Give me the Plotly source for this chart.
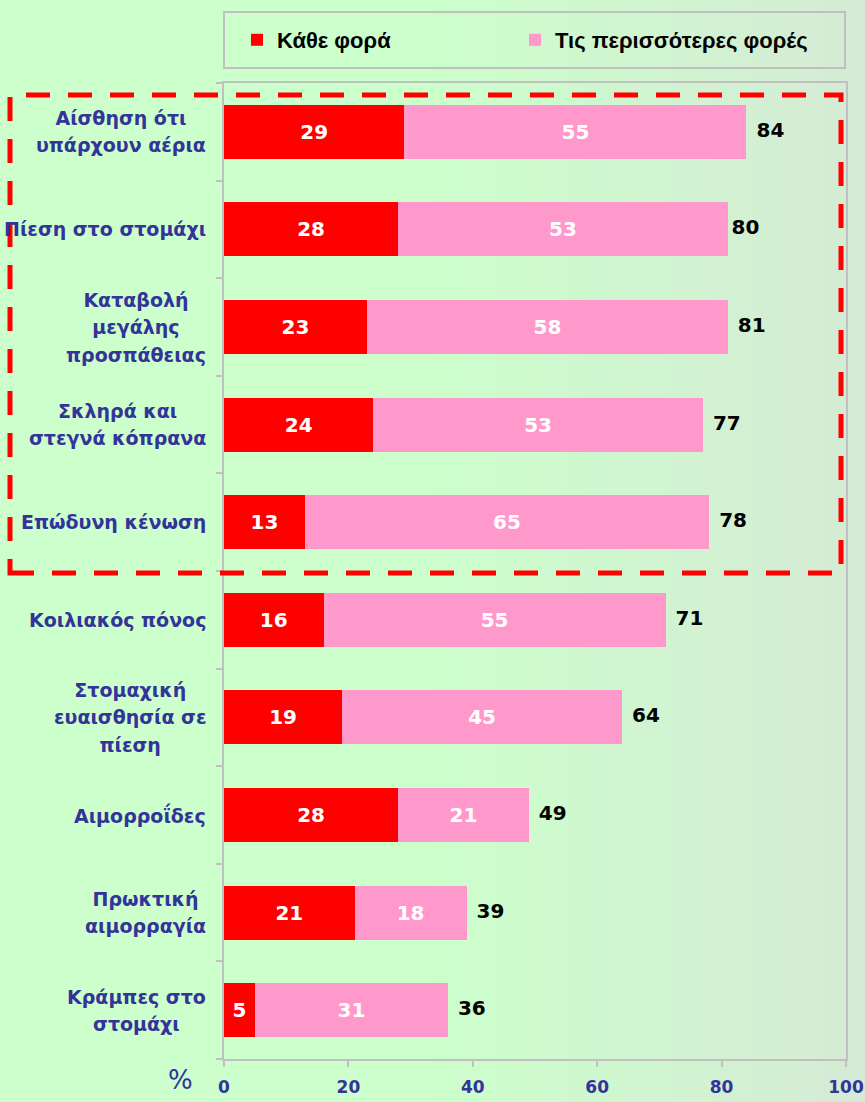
import plotly.graph_objects as go

categories = ["Αίσθηση ότι<br>υπάρχουν αέρια", "Πίεση στο στομάχι", "Καταβολή<br>μεγάλης<br>προσπάθειας",
              "Σκληρά και<br>στεγνά κόπρανα", "Επώδυνη κένωση", "Κοιλιακός πόνος",
              "Στομαχική<br>ευαισθησία σε<br>πίεση", "Αιμορροΐδες", "Πρωκτική<br>αιμορραγία",
              "Κράμπες στο<br>στομάχι"]
every_time = [29, 28, 23, 24, 13, 16, 19, 28, 21, 5]
most_times = [55, 53, 58, 53, 65, 55, 45, 21, 18, 31]
totals = [84, 80, 81, 77, 78, 71, 64, 49, 39, 36]
series_names = ["Κάθε φορά", "Τις περισσότερες φορές"]
x_ticks = [0, 20, 40, 60, 80, 100]

cat_ids = list(range(len(categories)))

fig = go.Figure()
fig.add_trace(go.Bar(y=cat_ids, x=every_time, orientation="h", name=series_names[0],
                     marker=dict(color="#ff0000", line=dict(width=0)),
                     text=every_time, textposition="inside", insidetextanchor="middle",
                     textfont=dict(color="white", size=20, family="DejaVu Sans", weight="bold"),
                     width=0.555, legend="legend"))
fig.add_trace(go.Bar(y=cat_ids, x=most_times, orientation="h", name=series_names[1],
                     marker=dict(color="#ff99cc", line=dict(width=0)),
                     text=most_times, textposition="inside", insidetextanchor="middle",
                     textfont=dict(color="white", size=20, family="DejaVu Sans", weight="bold"),
                     width=0.555, legend="legend2"))
fig.add_trace(go.Scatter(y=cat_ids, x=totals, mode="text", text=[f"\u2002{t}" for t in totals],
                         textposition="middle right", showlegend=False,
                         textfont=dict(color="black", size=20, family="DejaVu Sans", weight="bold")))

shapes = []
# background gradient strips (styling)
n = 40
px0, px1 = 0, 865
def px2paper(px):
    return (px - 224) / 622.0
def py2paper(py):
    return (1059 - py) / 976.0
for i in range(n):
    a = px0 + (px1 - px0) * i / n
    b = px0 + (px1 - px0) * (i + 1) / n
    mid = (a + b) / 2
    t = max(0.0, (mid - 430) / (865 - 430))
    r = round(204 + (213 - 204) * t)
    g = round(255 + (234 - 255) * t)
    bl = round(204 + (213 - 204) * t)
    shapes.append(dict(type="rect", xref="paper", yref="paper", x0=px2paper(a), x1=px2paper(b) + 0.002,
                       y0=-0.1, y1=1.2, fillcolor=f"rgb({r},{g},{bl})", line=dict(width=0), layer="below"))
# legend box
shapes.append(dict(type="rect", xref="paper", yref="paper", x0=px2paper(224), x1=px2paper(845),
                   y0=py2paper(68), y1=py2paper(12), line=dict(color="#c0c0c0", width=2),
                   fillcolor="rgba(0,0,0,0)", layer="above"))
# red dashed highlight box
shapes.append(dict(type="rect", xref="paper", yref="paper", x0=px2paper(10), x1=px2paper(841),
                   y0=py2paper(573), y1=py2paper(95),
                   line=dict(color="#ff0000", width=5, dash="24px,18px"), layer="above"))

annotations = []
for i, c in enumerate(categories):
    annotations.append(dict(xref="paper", yref="y", x=0, y=i, xanchor="right", xshift=-16,
                            text=f"<span style='font-size:19px'>{c}</span>", showarrow=False, align="center",
                            font=dict(family="DejaVu Sans", size=21, color="#333399", weight="bold")))
annotations.append(dict(xref="paper", yref="paper", x=px2paper(180), y=py2paper(1080), text="%",
                        xanchor="center", yanchor="middle",
                        showarrow=False, font=dict(family="DejaVu Sans", size=26, color="#333399")))

legend_style = dict(orientation="h", yanchor="middle", xanchor="left", bgcolor="rgba(0,0,0,0)",
                    borderwidth=0, itemwidth=30,
                    font=dict(family="Liberation Sans", size=22, color="black", weight="bold"))

fig.update_layout(
    width=865, height=1102,
    margin=dict(l=224, r=19, t=83, b=43, autoexpand=False),
    barmode="stack",
    paper_bgcolor="#ccffcc",
    plot_bgcolor="rgba(0,0,0,0)",
    shapes=shapes,
    annotations=annotations,
    showlegend=True,
    legend=dict(x=px2paper(237), y=py2paper(40), **legend_style),
    legend2=dict(x=px2paper(515), y=py2paper(40), **legend_style),
    xaxis=dict(range=[0, 100], tickvals=x_ticks, showgrid=False, zeroline=False, automargin=False,
               showline=True, linecolor="#c0c0c0", linewidth=2, mirror=True,
               ticks="outside", ticklen=6, tickcolor="#c0c0c0", tickwidth=2,
               ticklabelstandoff=6,
               tickfont=dict(family="DejaVu Sans", size=17, color="#333399", weight="bold")),
    yaxis=dict(autorange=False, range=[len(categories) - 0.5, -0.5], automargin=False,
               tickvals=[i - 0.5 for i in range(len(categories) + 1)], ticks="outside", ticklen=6,
               tickcolor="#c0c0c0", tickwidth=2,
               showticklabels=False, showgrid=False, zeroline=False,
               showline=True, linecolor="#c0c0c0", linewidth=2, mirror=True),
)

fig.write_html("out.html", config={"displayModeBar": False},
               post_script="document.body.style.margin='0';document.body.style.overflow='hidden';")
